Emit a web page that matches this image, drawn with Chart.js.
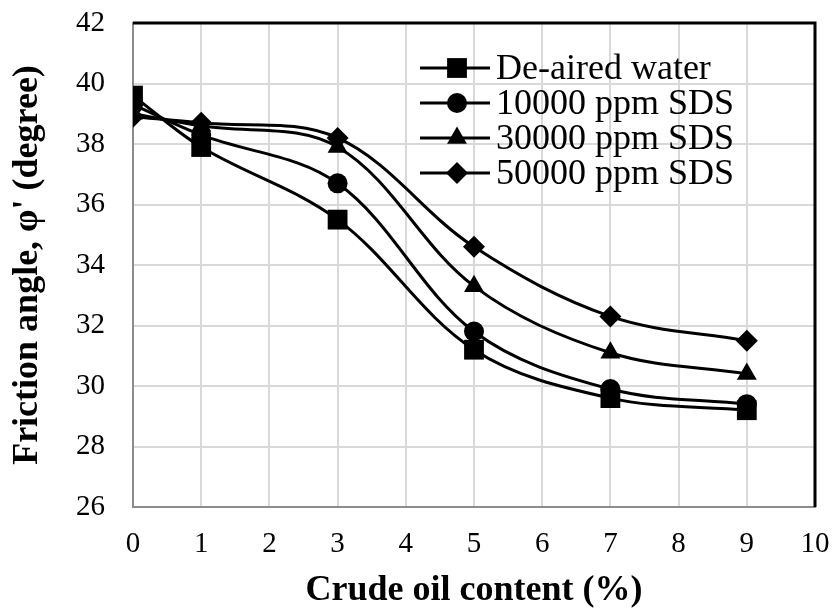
<!DOCTYPE html>
<html>
<head>
<meta charset="utf-8">
<script src="https://cdn.jsdelivr.net/npm/chart.js@4/dist/chart.umd.min.js"></script>
<style>
  html, body { margin: 0; padding: 0; background: #fff; }
  #wrap { width: 833px; height: 612px; }
</style>
</head>
<body>
<div id="wrap"><canvas id="chart" width="833" height="612"></canvas></div>
<script>
// crude oil content (%)
const oilContent = [0, 1, 3, 5, 7, 9];

const seriesNames = ["De-aired water", "10000 ppm SDS", "30000 ppm SDS", "50000 ppm SDS"];
const deairedWater = [39.6, 37.9, 35.5, 31.2, 29.6, 29.2];
const sds10000 = [39.3, 38.3, 36.7, 31.8, 29.9, 29.4];
const sds30000 = [39.0, 38.6, 37.9, 33.3, 31.1, 30.4];
const sds50000 = [38.9, 38.7, 38.2, 34.6, 32.3, 31.5];

const markers = ["rect", "circle", "triangle", "rectRot"];
const markerRadius = [14, 10, 11.5, 11];

const FONT = "'Liberation Serif', 'Times New Roman', serif";

function toPoints(vals) {
  return oilContent.map((x, i) => ({ x, y: vals[i] }));
}

const allSeries = [deairedWater, sds10000, sds30000, sds50000];
const datasets = allSeries.map((vals, i) => ({
  label: seriesNames[i],
  data: toPoints(vals),
  borderColor: "#000",
  backgroundColor: "#000",
  borderWidth: 3,
  pointStyle: markers[i],
  pointRadius: markerRadius[i],
  pointBorderWidth: 0,
  tension: 0.35,
  cubicInterpolationMode: "default"
}));

// top/right frame lines + legend drawn inside plot area
const framePlugin = {
  id: "frame",
  afterDatasetsDraw(chart) {
    const { ctx, chartArea: a } = chart;
    ctx.save();
    ctx.strokeStyle = "#000";
    ctx.lineWidth = 3;
    ctx.beginPath();
    ctx.moveTo(a.left, a.top);
    ctx.lineTo(a.right, a.top);
    ctx.lineTo(a.right, a.bottom);
    ctx.stroke();

    // legend
    const x0 = 420, x1 = 490, startY = 68, gap = 35;
    ctx.font = "36px " + FONT;
    ctx.textBaseline = "middle";
    ctx.fillStyle = "#000";
    seriesNames.forEach((name, i) => {
      const y = startY + i * gap;
      ctx.lineWidth = 3;
      ctx.beginPath();
      ctx.moveTo(x0, y);
      ctx.lineTo(x1, y);
      ctx.stroke();
      Chart.helpers.drawPoint(ctx, {
        pointStyle: markers[i],
        radius: markerRadius[i],
        rotation: 0,
        borderWidth: 0
      }, (x0 + x1) / 2 + 2, y);
      ctx.fillText(name, x1 + 6, y + 2);
    });
    ctx.restore();
  }
};

new Chart(document.getElementById("chart"), {
  type: "line",
  data: { datasets },
  plugins: [framePlugin],
  options: {
    responsive: false,
    animation: false,
    layout: { padding: { left: 0, right: 18, top: 23, bottom: 0 } },
    plugins: {
      legend: { display: false },
      tooltip: { enabled: false }
    },
    scales: {
      x: {
        type: "linear",
        min: 0,
        max: 10,
        ticks: {
          stepSize: 1,
          color: "#000",
          padding: 20,
          font: { family: FONT, size: 29 }
        },
        grid: { color: "#d9d9d9", lineWidth: 2, drawTicks: false },
        border: { color: "#8c8c8c", width: 2 },
        title: {
          display: true,
          text: "Crude oil content (%)",
          color: "#000",
          font: { family: FONT, size: 36, weight: "bold" },
          padding: { top: 0, bottom: 0 }
        },
        afterFit(scale) {
          scale.height = 105;
          scale.paddingLeft = 0;
          scale.paddingRight = 0;
        }
      },
      y: {
        min: 26,
        max: 42,
        ticks: {
          stepSize: 2,
          color: "#000",
          padding: 28,
          font: { family: FONT, size: 29 }
        },
        grid: { color: "#d9d9d9", lineWidth: 2, drawTicks: false },
        border: { color: "#8c8c8c", width: 2 },
        title: {
          display: true,
          text: "Friction angle, \u03c6' (degree)",
          color: "#000",
          font: { family: FONT, size: 36, weight: "bold" },
          padding: { top: 6, bottom: 0 }
        },
        afterFit(scale) {
          scale.width = 133;
          scale.paddingTop = 0;
          scale.paddingBottom = 0;
        }
      }
    }
  }
});
</script>
</body>
</html>
